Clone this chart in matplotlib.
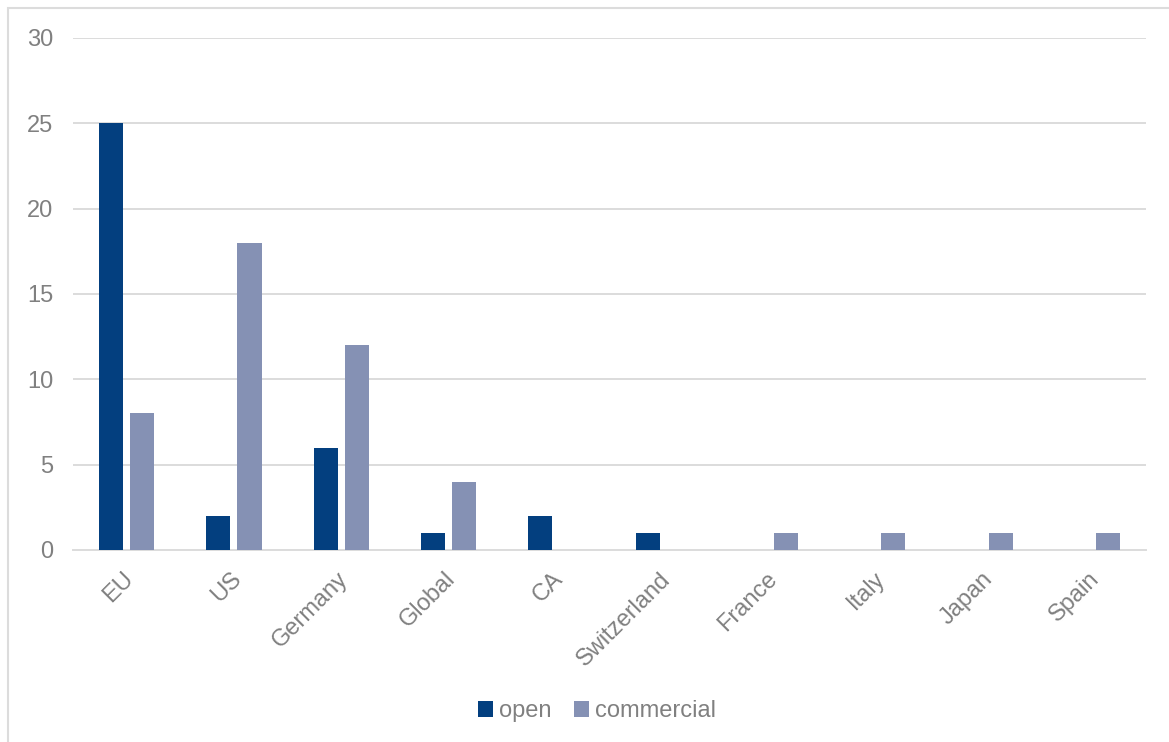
import matplotlib
matplotlib.use("Agg")
import matplotlib.pyplot as plt
import matplotlib.transforms as mtransforms
import numpy as np
from matplotlib.patches import Rectangle

categories = ["EU", "US", "Germany", "Global", "CA", "Switzerland", "France", "Italy", "Japan", "Spain"]
open_vals = [25, 2, 6, 1, 2, 1, 0, 0, 0, 0]
commercial_vals = [8, 18, 12, 4, 0, 0, 1, 1, 1, 1]
yticks = [0, 5, 10, 15, 20, 25, 30]

plt.rcParams['font.family'] = ['Liberation Sans', 'DejaVu Sans']
W, H = 1169, 742
fig = plt.figure(figsize=(W/100, H/100), dpi=100)
ax = fig.add_axes([73/W, 1-550/H, (1146-73)/W, (550-38)/H])

open_c = "#033F7F"
comm_c = "#8591B4"
grid_c = "#DCDCDC"
text_c = "#808080"

x = np.arange(len(categories))
bw = 0.225
gap = 0.065
ax.bar(x - (bw+gap)/2, open_vals, width=bw, color=open_c, label="open", zorder=3)
ax.bar(x + (bw+gap)/2, commercial_vals, width=bw, color=comm_c, label="commercial", zorder=3)

ax.set_xlim(-0.5, len(categories)-0.5)
ax.set_ylim(0, 30)
ax.set_yticks(yticks)
ax.yaxis.grid(True, color=grid_c, linewidth=1.4, zorder=0)
ax.set_axisbelow(True)
for s in ["top", "right", "left"]:
    ax.spines[s].set_visible(False)
ax.spines["bottom"].set_color(grid_c)
ax.spines["bottom"].set_linewidth(1.4)
ax.tick_params(axis="both", length=0, colors=text_c, labelsize=17)
ax.tick_params(axis="y", pad=14)
ax.set_xticks(x)
ax.set_xticklabels(categories, rotation=45, ha="right", rotation_mode="anchor")
ax.tick_params(axis="x", pad=13)
offset = mtransforms.ScaledTranslation(-4/100, 0, fig.dpi_scale_trans)
for lbl in ax.get_xticklabels():
    lbl.set_transform(lbl.get_transform() + offset)

leg = fig.legend(loc="center", bbox_to_anchor=(597/W, 1-711/H), ncol=2, frameon=False,
                 fontsize=17, handlelength=0.65, handleheight=0.65, handletextpad=0.25,
                 columnspacing=0.95, labelcolor=text_c)

fig.patches.append(Rectangle((8/W, -0.01), 1.02, 1-8/H+0.01, transform=fig.transFigure,
                             fill=False, edgecolor=grid_c, linewidth=1.5))

fig.savefig("out.png", dpi=100)
